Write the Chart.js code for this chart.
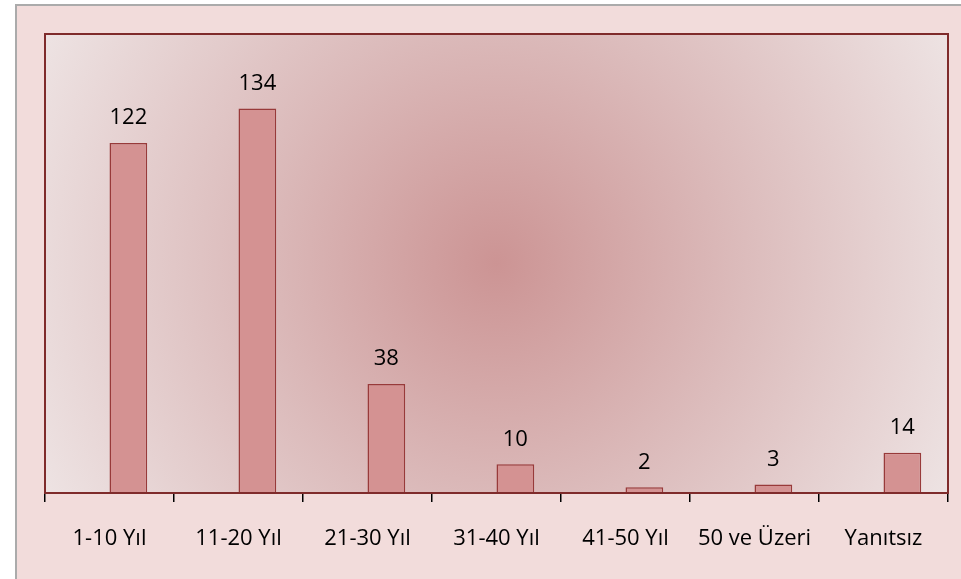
<!DOCTYPE html>
<html>
<head>
<meta charset="utf-8">
<script src="https://cdn.jsdelivr.net/npm/chart.js@4/dist/chart.umd.min.js"></script>
<style>
  html, body { margin: 0; padding: 0; background: #ffffff; }
  #wrap { width: 961px; height: 579px; position: relative; }
</style>
</head>
<body>
<div id="wrap"><canvas id="c" width="961" height="579"></canvas></div>
<script>
// Years-of-experience groups and respondent counts
const categories = ['1-10 Yıl', '11-20 Yıl', '21-30 Yıl', '31-40 Yıl', '41-50 Yıl', '50 ve Üzeri', 'Yanıtsız'];
const counts = [122, 134, 38, 10, 2, 3, 14];
const yMax = 160;

const FONT = '"Open Sans", "Liberation Sans", sans-serif';

// Frame, page background and shaded plot panel
const backdrop = {
  id: 'backdrop',
  beforeDraw(chart) {
    const { ctx, chartArea: a } = chart;
    ctx.save();
    ctx.fillStyle = '#ffffff';
    ctx.fillRect(0, 0, chart.width, chart.height);
    ctx.fillStyle = '#f2dcdb';
    ctx.fillRect(15, 4, chart.width - 15, chart.height - 4);
    ctx.strokeStyle = '#ababab';
    ctx.lineWidth = 2;
    ctx.beginPath();
    ctx.moveTo(16, chart.height);
    ctx.lineTo(16, 5);
    ctx.lineTo(chart.width, 5);
    ctx.stroke();

    const cx = a.left + (a.right - a.left) * 0.5;
    const cy = a.top + (a.bottom - a.top) * 0.5;
    const g = ctx.createRadialGradient(cx, cy, 0, cx, cy, 500);
    g.addColorStop(0, '#cc9494');
    g.addColorStop(0.5, '#dcbcbc');
    g.addColorStop(1, '#ede2e2');
    ctx.fillStyle = g;
    ctx.fillRect(a.left, a.top, a.right - a.left, a.bottom - a.top);
    ctx.restore();
  },
  afterDatasetsDraw(chart) {
    const { ctx, chartArea: a } = chart;
    ctx.save();
    ctx.strokeStyle = '#7f2b2b';
    ctx.lineWidth = 2;
    ctx.strokeRect(a.left, a.top, a.right - a.left, a.bottom - a.top);
    ctx.restore();
  }
};

// Value labels above each bar of the counts series
const valueLabels = {
  id: 'valueLabels',
  afterDatasetsDraw(chart) {
    const { ctx } = chart;
    const idx = chart.data.datasets.findIndex(d => d.label === 'Kişi');
    const meta = chart.getDatasetMeta(idx);
    ctx.save();
    ctx.fillStyle = '#000000';
    ctx.font = '22px ' + FONT;
    ctx.textAlign = 'center';
    ctx.textBaseline = 'middle';
    meta.data.forEach((bar, i) => {
      ctx.fillText(String(chart.data.datasets[idx].data[i]), bar.x, bar.y - 25);
    });
    ctx.restore();
  }
};

new Chart(document.getElementById('c'), {
  type: 'bar',
  data: {
    labels: categories,
    datasets: [
      // empty first slot of the group, keeps the counts bar right of centre
      { label: '', data: [] },
      {
        label: 'Kişi',
        data: counts,
        backgroundColor: '#d49292',
        borderColor: '#983a3a',
        borderWidth: 1.5
      }
    ]
  },
  options: {
    responsive: false,
    animation: false,
    devicePixelRatio: 1,
    datasets: { bar: { barPercentage: 1, categoryPercentage: 0.585 } },
    layout: { padding: { left: 45, right: 13, top: 34, bottom: 0 } },
    plugins: { legend: { display: false }, tooltip: { enabled: false } },
    scales: {
      y: { display: false, min: 0, max: yMax },
      x: {
        afterFit(scale) { scale.height = 86; },
        grid: { drawOnChartArea: false, tickLength: 9, color: '#000000', lineWidth: 1.5, offset: true },
        border: { display: true, color: '#000000', width: 2 },
        ticks: { color: '#000000', font: { family: FONT, size: 22 }, padding: 24, maxRotation: 0 }
      }
    }
  },
  plugins: [backdrop, valueLabels]
});
</script>
</body>
</html>
